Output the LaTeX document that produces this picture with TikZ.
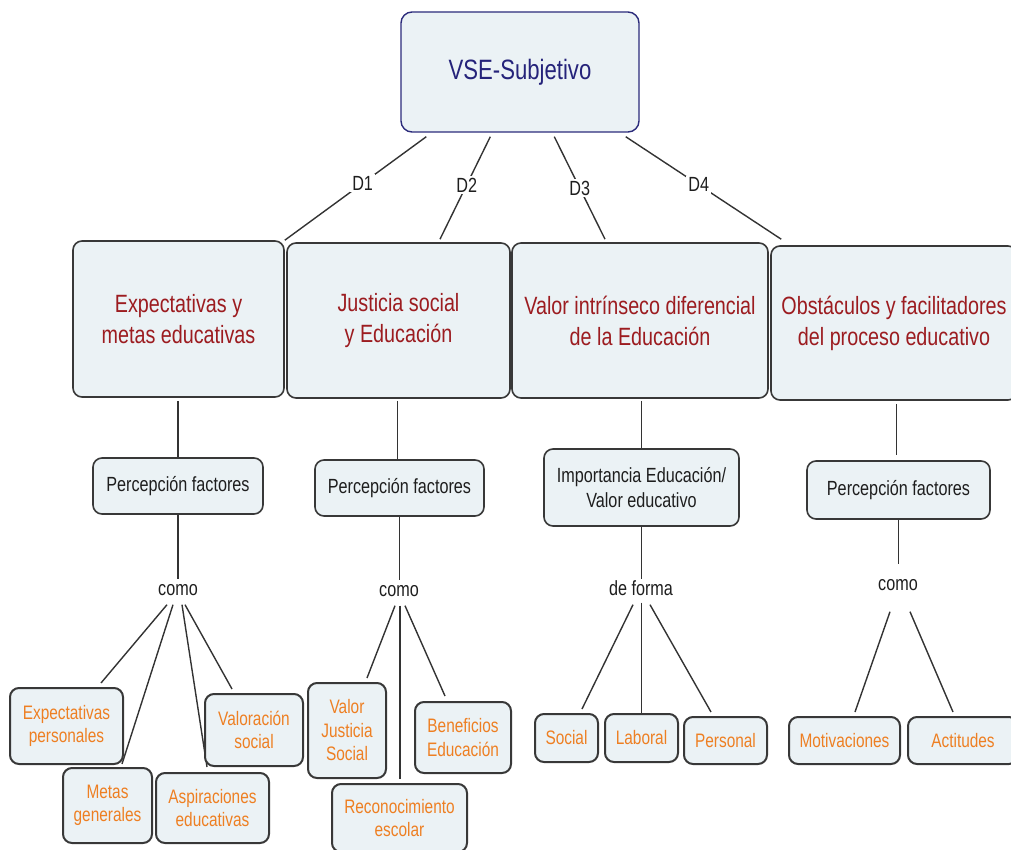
\documentclass[tikz,border=0pt]{standalone}
\usepackage{fontspec}
\setmainfont{Liberation Sans}[FakeStretch=0.79]
\usetikzlibrary{backgrounds}
\definecolor{boxfill}{HTML}{EBF2F5}
\definecolor{boxline}{HTML}{383838}
\definecolor{rootline}{HTML}{2B2B7B}
\definecolor{rootblue}{HTML}{25237A}
\definecolor{mainred}{HTML}{9C1C20}
\definecolor{leaforange}{HTML}{EE7F22}
\definecolor{linecol}{HTML}{333333}
\definecolor{txt}{HTML}{1E1E1E}
\tikzset{
 base/.style={rounded corners=9pt, fill=boxfill, draw=boxline, line width=1.6pt, align=center, inner sep=2pt},
 rootbox/.style={base, draw=rootline, text=rootblue, font=\fontsize{28}{32}\selectfont, line width=1.4pt, rounded corners=11pt},
 mainbox/.style={base, text=mainred, font=\fontsize{25}{31}\selectfont},
 midbox/.style={base, text=txt, font=\fontsize{20.5}{25}\selectfont},
 leafbox/.style={base, text=leaforange, font=\fontsize{19.5}{23.5}\selectfont, line width=2pt},
 word/.style={font=\fontsize{20.5}{24}\selectfont, text=txt, inner sep=4pt, text height=12pt, text depth=3pt},
 link/.style={draw=linecol, line width=1.4pt},
 dlabel/.style={fill=white, font=\fontsize{20.5}{24}\selectfont, inner sep=2pt, text=txt}
}
\begin{document}
\begin{tikzpicture}[x=1pt,y=-1pt]
\useasboundingbox (0,0) rectangle (1011,850);
% root
\node[rootbox, minimum width=238pt, minimum height=120pt] (root) at (520,72) {VSE-Subjetivo};
% main boxes
\node[mainbox, minimum width=211pt, minimum height=156pt] (b1) at (178.5,319) {Expectativas y\\metas educativas};
\node[mainbox, minimum width=223pt, minimum height=155pt] (b2) at (398.5,320.5) {Justicia social\\y Educación};
\node[mainbox, minimum width=256pt, minimum height=155pt] (b3) at (640,320.5) {Valor intrínseco diferencial\\de la Educación};
\node[mainbox, minimum width=246pt, minimum height=154pt] (b4) at (894,323) {Obstáculos y facilitadores\\del proceso educativo};
% middle boxes
\node[midbox, minimum width=170pt, minimum height=56pt] (p1) at (178,486) {Percepción factores};
\node[midbox, minimum width=169pt, minimum height=56pt] (p2) at (399.5,488) {Percepción factores};
\node[midbox, minimum width=195pt, minimum height=77pt] (imp) at (641.5,487.5) {Importancia Educación/\\Valor educativo};
\node[midbox, minimum width=183pt, minimum height=58pt] (p4) at (898.5,490) {Percepción factores};
% words
\node[word] (como1) at (178,591) {como};
\node[word] (como2) at (399,592) {como};
\node[word] (deforma) at (641,591) {de forma};
\node[word] (como4) at (898,586) {como};
% leaves
\node[leafbox, minimum width=113pt, minimum height=76pt] (expP) at (66.5,726) {Expectativas\\personales};
\node[leafbox, minimum width=89pt, minimum height=75pt] (metas) at (107.5,805.5) {Metas\\generales};
\node[leafbox, minimum width=113pt, minimum height=70pt] (asp) at (212.5,808) {Aspiraciones\\educativas};
\node[leafbox, minimum width=98pt, minimum height=72pt] (valS) at (254,730) {Valoración\\social};
\node[leafbox, minimum width=78pt, minimum height=95pt] (vjs) at (347,730.5) {Valor\\Justicia\\Social};
\node[leafbox, minimum width=135pt, minimum height=68pt] (recon) at (399.5,818) {Reconocimiento\\escolar};
\node[leafbox, minimum width=96pt, minimum height=71pt] (benef) at (463,737.5) {Beneficios\\Educación};
\node[leafbox, minimum width=63pt, minimum height=48pt] (social) at (566.5,738) {Social};
\node[leafbox, minimum width=73pt, minimum height=48pt] (laboral) at (641.5,738) {Laboral};
\node[leafbox, minimum width=83pt, minimum height=47pt] (personal) at (725.5,740.5) {Personal};
\node[leafbox, minimum width=111pt, minimum height=47pt] (motiv) at (844.5,740.5) {Motivaciones};
\node[leafbox, minimum width=110pt, minimum height=47pt] (actit) at (963,740.5) {Actitudes};
% connectors
\begin{scope}[on background layer]
\draw[link] ([xshift=26pt,yshift=-4pt]root.south west) -- node[dlabel,pos=0.45]{D1} (b1.north east);
\draw[link] ([xshift=90pt,yshift=-4pt]root.south west) -- node[dlabel,pos=0.47]{D2} ([xshift=41.5pt,yshift=3pt]b2.north);
\draw[link] ([xshift=154pt,yshift=-4pt]root.south west) -- node[dlabel,pos=0.5]{D3} ([xshift=-35pt,yshift=3pt]b3.north);
\draw[link] ([xshift=-14pt,yshift=-4pt]root.south east) -- node[dlabel,pos=0.47]{D4} ([xshift=11pt,yshift=6pt]b4.north west);
\draw[link] ([yshift=-3pt]p1.north |- b1.south) -- (p1.north);
\draw[link] ([xshift=-2pt,yshift=-2pt]p2.north |- b2.south) -- ([xshift=-2pt]p2.north);
\draw[link] ([yshift=-2pt]imp.north |- b3.south) -- (imp.north);
\draw[link] ([xshift=-2pt,yshift=-3pt]p4.north |- b4.south) -- ([xshift=-2pt,yshift=5pt]p4.north);
\draw[link] (p1.south) -- (p1.south |- como1.north);
\draw[link] (p2.south) -- (p2.south |- como2.north);
\draw[link] (imp.south) -- (imp.south |- deforma.north);
\draw[link] (p4.south) -- ([yshift=10pt]p4.south |- como4.north);
\draw[link] ([xshift=-11pt,yshift=-2pt]como1.south) -- ([xshift=34.5pt,yshift=4pt]expP.north);
\draw[link] ([xshift=-5pt,yshift=-2pt]como1.south) -- ([xshift=14.5pt,yshift=3pt]metas.north);
\draw[link] ([xshift=4pt,yshift=-2pt]como1.south) -- ([xshift=-5.5pt,yshift=5pt]asp.north);
\draw[link] ([xshift=7pt,yshift=-2pt]como1.south) -- ([xshift=-22pt,yshift=4pt]valS.north);
\draw[link] ([xshift=-4pt,yshift=-2pt]como2.south) -- ([xshift=20pt,yshift=4pt]vjs.north);
\draw[link] ([xshift=1pt,yshift=-2pt]como2.south) -- ([xshift=0.5pt,yshift=4pt]recon.north);
\draw[link] ([xshift=6pt,yshift=-2pt]como2.south) -- ([xshift=-18pt,yshift=5pt]benef.north);
\draw[link] ([xshift=-8pt,yshift=-2pt]deforma.south) -- ([xshift=15.5pt,yshift=4pt]social.north);
\draw[link] (laboral.north |- deforma.south) -- (laboral.north);
\draw[link] ([xshift=9pt,yshift=-2pt]deforma.south) -- ([xshift=-14.5pt,yshift=4pt]personal.north);
\draw[link] ([xshift=-8pt,yshift=-14pt]como4.south) -- ([xshift=10.5pt,yshift=4pt]motiv.north);
\draw[link] ([xshift=12pt,yshift=-14pt]como4.south) -- ([xshift=-10pt,yshift=4pt]actit.north);
\end{scope}
\end{tikzpicture}
\end{document}
